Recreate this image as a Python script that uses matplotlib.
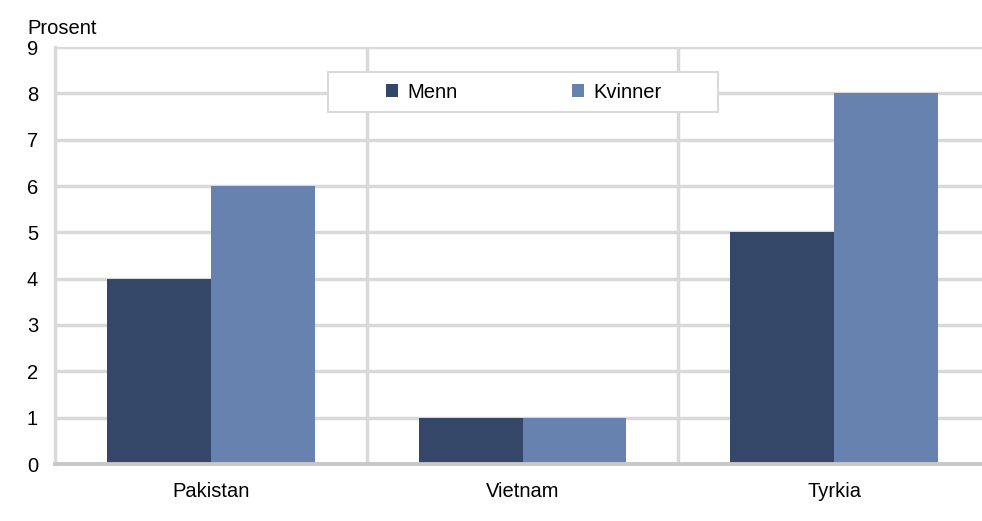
import matplotlib
matplotlib.use("Agg")
import matplotlib.pyplot as plt
import numpy as np
import matplotlib.transforms as mtransforms
from matplotlib.patches import Rectangle

plt.rcParams['font.family'] = ['Liberation Sans', 'DejaVu Sans']

categories = ["Pakistan", "Vietnam", "Tyrkia"]
menn = [4, 1, 5]
kvinner = [6, 1, 8]
series_names = ["Menn", "Kvinner"]
yticks = list(range(0, 10))

FS = 14.5
W, H = 982, 521
fig = plt.figure(figsize=(W/100, H/100), dpi=100)
left, right, top, bottom = 55, 990, 47, 464
ax = fig.add_axes([left/W, 1-bottom/H, (right-left)/W, (bottom-top)/H])

x = np.arange(len(categories))
bw = 1/3
c_m = "#344769"
c_k = "#6882b0"
ax.bar(x - bw/2, menn, bw, color=c_m, label=series_names[0], zorder=3)
ax.bar(x + bw/2, kvinner, bw, color=c_k, label=series_names[1], zorder=3)

ax.set_xlim(-0.5, 2.5)
ax.set_ylim(0, 9)
ax.set_yticks(yticks)
ax.set_xticks(x)
ax.set_xticklabels(categories, fontsize=FS)
ax.tick_params(axis='y', labelsize=FS, length=0, pad=0)
ax.tick_params(axis='x', length=0, pad=13)
ax.grid(axis='y', color="#d9d9d9", linewidth=2.5, zorder=1)
for xv in [0.5, 1.5]:
    ax.axvline(xv, color="#d9d9d9", linewidth=2.5, zorder=1)
for s in ['top', 'right']:
    ax.spines[s].set_visible(False)
ax.spines['left'].set_color("#d9d9d9")
ax.spines['left'].set_linewidth(2.5)
ax.spines['bottom'].set_color("#c8c8c8")
ax.spines['bottom'].set_linewidth(2.8)
ax.spines['bottom'].set_zorder(4)
for lab in ax.get_yticklabels():
    lab.set_horizontalalignment('left')
    lab.set_transform(lab.get_transform() + mtransforms.ScaledTranslation(-28/100, 0, fig.dpi_scale_trans))

fig.text(27/W, 1-28/H, "Prosent", fontsize=FS, ha='left', va='center')

# legend frame
fig.patches.append(Rectangle((328/W, 1-112/H), (718-328)/W, 40/H, transform=fig.transFigure,
                             facecolor='white', edgecolor='#d9d9d9', linewidth=1.5, zorder=5))
leg = fig.legend(loc='center', bbox_to_anchor=(524/W, 1-92/H),
                 ncol=2, frameon=False, fontsize=FS, handlelength=0.6, handleheight=0.6,
                 columnspacing=5.7, handletextpad=0.45, borderpad=0.2)
leg.set_zorder(6)

fig.savefig("out.png", dpi=100)
